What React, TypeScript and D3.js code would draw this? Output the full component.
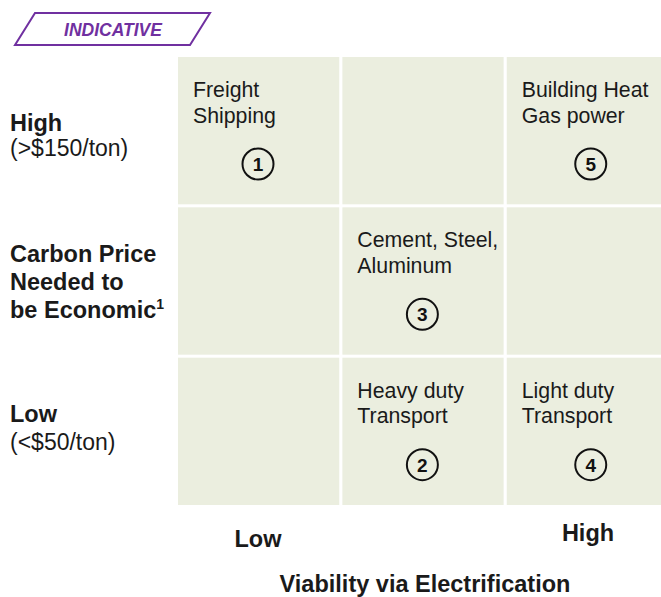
import React from "react";
import * as d3 from "d3";

const xLevels = ["Low", "Mid", "High"];
const yLevels = ["High", "Mid", "Low"];
const itemLabels = [["Freight", "Shipping"], ["Heavy duty", "Transport"], ["Cement, Steel,", "Aluminum"], ["Light duty", "Transport"], ["Building Heat", "Gas power"]];
const itemNumbers = [1, 2, 3, 4, 5];
const itemViability = ["Low", "Mid", "Mid", "High", "High"];
const itemCarbonPrice = ["High", "Low", "Mid", "Low", "High"];
const bottomTickLabels = ["Low", "High"];
const yAxisTitle = ["Carbon Price", "Needed to", "be Economic"];

export default function App() {
  const W = 661, H = 597;
  const x = d3.scaleBand<string>().domain(xLevels).range([178, 668]).paddingInner(0.019).paddingOuter(0);
  const y = d3.scaleBand<string>().domain(yLevels).range([57, 505]).paddingInner(0.02).paddingOuter(0);
  const font = "'Liberation Sans', Arial, sans-serif";
  const ink = "#1a1a1a";
  const cells: { cx: string; cy: string }[] = [];
  xLevels.forEach((cx) => yLevels.forEach((cy) => cells.push({ cx, cy })));
  return (
    <svg width={W} height={H} style={{ position: "absolute", left: 0, top: 0 }} fontFamily={font}>
      <rect width={W} height={H} fill="#fff" />
      {/* indicative tag */}
      <polygon points="35,13 210,13 190,45 15,45" fill="#fff" stroke="#7030a0" strokeWidth={2} />
      <text x={113} y={36} textAnchor="middle" fontSize={17.5} fontWeight="bold" fontStyle="italic" fill="#7030a0">INDICATIVE</text>
      {cells.map((c, i) => (
        <rect key={i} x={x(c.cx)} y={y(c.cy)} width={x.bandwidth()} height={y.bandwidth()} fill="#ebeedf" />
      ))}
      {itemLabels.map((lines, i) => {
        const x0 = x(itemViability[i])!;
        const y0 = y(itemCarbonPrice[i])!;
        const cxm = itemViability[i] === "High" ? x0 + 84 : x0 + 80;
        return (
          <g key={i}>
            {lines.map((l, j) => (
              <text key={j} x={x0 + 15} y={y0 + 40 + j * 25.5} fontSize={21.3} fill={ink}>{l}</text>
            ))}
            <circle cx={cxm} cy={y0 + 107} r={15.5} fill="none" stroke="#111" strokeWidth={2} />
            <text x={cxm} y={y0 + 114} textAnchor="middle" fontSize={19} fontWeight="bold" fill="#111">{itemNumbers[i]}</text>
          </g>
        );
      })}
      {/* left labels */}
      <text x={10} y={131} fontSize={23.5} fontWeight="bold" fill={ink}>High</text>
      <text x={10} y={156} fontSize={23} fill={ink}>(&gt;$150/ton)</text>
      {yAxisTitle.map((t, j) => (
        <text key={j} x={10} y={262 + j * 28} fontSize={23.5} fontWeight="bold" fill={ink}>
          {t}
          {j === 2 ? <tspan fontSize={14} dy={-9}>1</tspan> : null}
        </text>
      ))}
      <text x={10} y={422} fontSize={23.5} fontWeight="bold" fill={ink}>Low</text>
      <text x={10} y={450} fontSize={23} fill={ink}>(&lt;$50/ton)</text>
      {/* bottom labels */}
      <text x={258} y={547} textAnchor="middle" fontSize={23.5} fontWeight="bold" fill={ink}>{bottomTickLabels[0]}</text>
      <text x={588} y={541} textAnchor="middle" fontSize={23.5} fontWeight="bold" fill={ink}>{bottomTickLabels[1]}</text>
      <text x={425} y={592} textAnchor="middle" fontSize={23.5} fontWeight="bold" fill={ink}>Viability via Electrification</text>
    </svg>
  );
}
